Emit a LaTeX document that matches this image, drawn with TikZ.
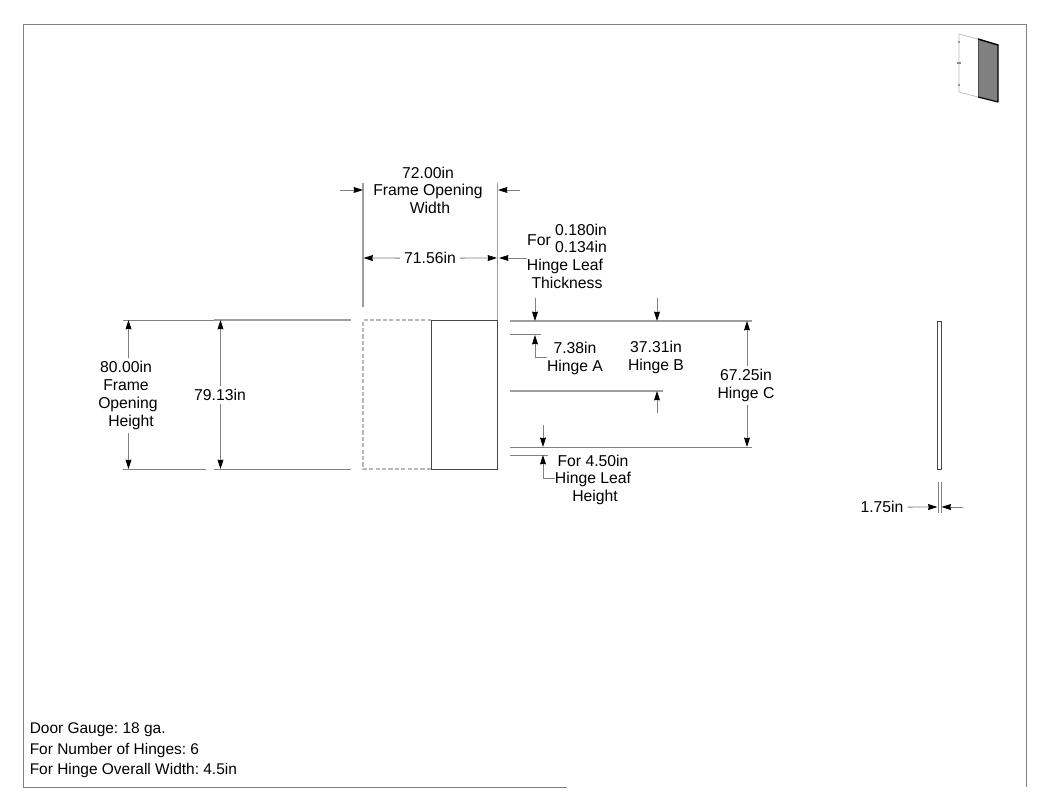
\documentclass[tikz,border=0pt]{standalone}
\usepackage{fontspec}
\setmainfont{Liberation Sans}
\usetikzlibrary{arrows.meta}
\AtBeginDocument{\frenchspacing}
\definecolor{ln}{gray}{0.5}
\definecolor{hv}{gray}{0.62}
\tikzset{
  lab/.style={font=\fontsize{11.8pt}{14pt}\selectfont,inner sep=0pt,text=black,anchor=base,yshift=-4.3pt},
  note/.style={lab,font=\fontsize{11.6pt}{14pt}\selectfont,anchor=base west},
  gap/.style={lab,inner xsep=3pt,inner ysep=2pt},
  dim/.style={draw=ln,line width=0.6pt,-{Stealth[length=7pt,width=4.4pt,inset=0.4pt,black]}},
  ext/.style={draw=hv,line width=1pt},
  thin line/.style={draw=ln,line width=0.6pt},
  border/.style={draw=ln,line width=0.7pt},
  part/.style={draw=black!72,line width=0.75pt},
  ghost/.style={draw=black!28,line width=0.8pt,dash pattern=on 3.2pt off 1.6pt},
}
\begin{document}
\begin{tikzpicture}[x=0.75pt,y=-0.75pt]
\useasboundingbox (0,0) rectangle (1050,811);
% sheet border
\coordinate (bBL) at (23.5,787); \coordinate (bTL) at (23.5,24);
\coordinate (bTR) at (1026,24); \coordinate (bBR) at (1026,787);
\coordinate (bEnd) at (567,787);
\draw[border] (bEnd) -- (bBL) -- (bTL) -- (bTR) -- (bBR);
% thumbnail
\coordinate (tA) at (978,39); \coordinate (tB) at (998,45);
\coordinate (tC) at (998,102); \coordinate (tD) at (978,97);
\coordinate (tE) at (959,34); \coordinate (tF) at (959,92);
\fill[black!50] (tA) -- (tB) -- (tC) -- (tD) -- cycle;
\draw[black!70,line width=0.5pt] (tD) -- (tA);
\draw[black,line width=0.9pt] (tD) -- (tC);
\draw[black,line width=1.1pt] (tA) -- (tB) -- (tC);
\draw[black!25,line width=0.6pt] (tA) -- (tE) -- (tF) -- (tD);
\foreach \yy in {42,85}{\draw[black!40,line width=1pt] (958,\yy) -- (960,\yy);}
\draw[black!45,line width=1.2pt] (957,63) -- (961,63);
% door views
\coordinate (gTL) at (363,320); \coordinate (gBR) at (431,469);
\coordinate (dTL) at (431,320); \coordinate (dBR) at (497,469);
\coordinate (sTL) at (937.5,321); \coordinate (sBR) at (941,469);
\draw[ghost] (gBR) -| (gTL) -- (dTL);
\draw[part] (dTL) rectangle (dBR);
\draw[part] (sTL) rectangle (sBR);
% texts
\node[lab] (t72) at (428,173) {72.00in};
\node[lab] (tFO) at (428,190) {Frame Opening};
\node[lab] (tW) at (430,208) {Width};
\node[gap] (t7156) at (430,258) {71.56in};
\node[lab] (tFor) at (539,240) {For};
\node[lab] (t180) at (581,230) {0.180in};
\node[lab] (t134) at (581,247) {0.134in};
\node[lab] (tHL) at (565,265) {Hinge Leaf};
\node[lab] (tTh) at (567,283) {Thickness};
\node[lab] (t738) at (575,348) {7.38in};
\node[lab] (tHA) at (575,366) {Hinge A};
\node[lab] (t3731) at (656,347) {37.31in};
\node[lab] (tHB) at (656,365) {Hinge B};
\node[gap] (t6725) at (746,375) {67.25in};
\node[gap] (tHC) at (746,393) {Hinge C};
\node[lab] (t450) at (593,461) {For 4.50in};
\node[lab] (tHL2) at (593,478) {Hinge Leaf};
\node[lab] (tH2) at (595,496) {Height};
\node[gap] (t80) at (126,367) {80.00in};
\node[lab] (tFr) at (126,385) {Frame};
\node[lab] (tOp) at (128,403) {Opening};
\node[gap] (tHt) at (131,421) {Height};
\node[gap] (t79) at (220,395) {79.13in};
\node[gap] (t175) at (882,507) {1.75in};
\node[note] (n1) at (29.5,728) {Door Gauge: 18 ga.};
\node[note] (n2) at (29.5,749) {For Number of Hinges: 6};
\node[note] (n3) at (29.5,769) {For Hinge Overall Width: 4.5in};
% extension lines top
\coordinate (e1a) at (363,183); \coordinate (e1b) at (363,307);
\coordinate (e2a) at (497.5,183); \coordinate (e2b) at (497.5,320);
\draw[ext] (e1a) -- (e1b);
\draw[ext] (e2a) -- (e2b);
% 72.00
\coordinate (a1) at (340,190); \coordinate (a1t) at (363,190);
\coordinate (a2) at (520,190); \coordinate (a2t) at (498,190);
\draw[dim] (a1) -- (a1t);
\draw[dim] (a2) -- (a2t);
% 71.56
\coordinate (b1) at (363.5,258); \coordinate (b2) at (497,258);
\draw[dim] (t7156.west) -- (b1);
\draw[dim] (t7156.east) -- (b2);
\coordinate (b3) at (527,258); \coordinate (b3t) at (499,258);
\draw[dim] (b3) -- (b3t);
% hinge extension lines
\coordinate (h1a) at (510,321); \coordinate (h1b) at (752,321);
\coordinate (h2a) at (510,334.5); \coordinate (h2b) at (541,334.5);
\coordinate (h3a) at (510,391); \coordinate (h3b) at (663,391);
\coordinate (h4a) at (510,447); \coordinate (h4b) at (752,447);
\coordinate (h5a) at (510,455); \coordinate (h5b) at (548,455);
\draw[ext] (h1a) -- (h1b);
\draw[thin line] (h2a) -- (h2b);
\draw[ext] (h3a) -- (h3b);
\draw[thin line] (h4a) -- (h4b);
\draw[thin line] (h5a) -- (h5b);
% hinge A
\coordinate (c1) at (535,298); \coordinate (c1t) at (535,321);
\coordinate (c2) at (547,357); \coordinate (c2k) at (535,357); \coordinate (c2t) at (535,335);
\draw[dim] (c1) -- (c1t);
\draw[dim] (c2) -- (c2k) -- (c2t);
% hinge B
\coordinate (d1) at (657,298); \coordinate (d1t) at (657,321);
\coordinate (d2) at (657,413); \coordinate (d2t) at (657,391);
\draw[dim] (d1) -- (d1t);
\draw[dim] (d2) -- (d2t);
% hinge C
\coordinate (f1t) at (747,321); \coordinate (f2t) at (747,447);
\draw[dim] (t6725.north -| f1t) -- (f1t);
\draw[dim] (tHC.south -| f2t) -- (f2t);
% leaf height
\coordinate (g1) at (543,425); \coordinate (g1t) at (543,447);
\coordinate (g2) at (555,478); \coordinate (g2k) at (543,478); \coordinate (g2t) at (543,455);
\draw[dim] (g1) -- (g1t);
\draw[dim] (g2) -- (g2k) -- (g2t);
% left extensions
\coordinate (l1a) at (123,320); \coordinate (l1b) at (214,320); \coordinate (l1c) at (351,320);
\coordinate (l2a) at (123,469); \coordinate (l2b) at (206,469);
\coordinate (l3a) at (214,469); \coordinate (l3b) at (351,469);
\draw[thin line] (l1a) -- (l1b);
\draw[ext] (l1b) -- (l1c);
\draw[thin line] (l2a) -- (l2b);
\draw[thin line] (l3a) -- (l3b);
% 80.00
\coordinate (m1t) at (128.5,320); \coordinate (m2t) at (128.5,469);
\draw[dim] (t80.north -| m1t) -- (m1t);
\draw[dim] (tHt.south -| m2t) -- (m2t);
% 79.13
\coordinate (o1t) at (220.5,320); \coordinate (o2t) at (220.5,469);
\draw[dim] (t79.north -| o1t) -- (o1t);
\draw[dim] (t79.south -| o2t) -- (o2t);
% 1.75
\coordinate (q1a) at (938,482); \coordinate (q1b) at (938,513);
\coordinate (q2a) at (941,482); \coordinate (q2b) at (941,513);
\draw[thin line] (q1a) -- (q1b);
\draw[thin line] (q2a) -- (q2b);
\coordinate (q1t) at (937.5,507); \coordinate (q2) at (963,507); \coordinate (q2t) at (941.5,507);
\draw[dim] (t175.east) -- (q1t);
\draw[dim] (q2) -- (q2t);
\end{tikzpicture}
\end{document}
